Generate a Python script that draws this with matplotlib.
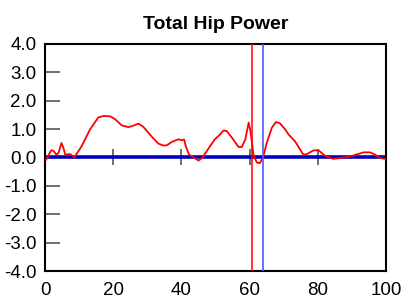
import matplotlib
matplotlib.use('Agg')
import matplotlib.pyplot as plt

plt.rcParams['font.family'] = ['Liberation Sans', 'DejaVu Sans']

# Total hip power curve (% of gait cycle vs W/kg)
pct = [0.3, 1.8, 2.4, 3.4, 4.0, 4.8, 5.4, 5.9, 7.3, 8.6, 10.7, 13.2, 15.6, 17.1,
       19.1, 20.5, 22.5, 24.4, 25.4, 27.4, 28.8, 31.3, 33.2, 34.7, 35.7, 37.2,
       39.1, 40.1, 40.8, 41.2, 42.2, 43.5, 45.0, 46.0, 47.4, 49.7, 51.3, 52.3,
       53.3, 55.2, 56.7, 57.7, 58.7, 59.7, 60.3, 61.1, 62.1, 63.0, 64.0, 65.0,
       66.5, 67.7, 68.9, 70.4, 71.4, 73.3, 75.6, 76.5, 78.7, 80.2, 82.1, 84.5,
       86.5, 88.5, 90.4, 93.4, 95.3, 96.8, 98.2, 99.7]
power = [-0.08, 0.25, 0.24, 0.09, 0.18, 0.51, 0.33, 0.10, 0.12, 0.01, 0.39, 0.99,
         1.41, 1.46, 1.45, 1.35, 1.13, 1.07, 1.10, 1.19, 1.08, 0.73, 0.49, 0.42,
         0.43, 0.55, 0.64, 0.61, 0.63, 0.42, 0.10, 0.01, -0.11, -0.02, 0.22,
         0.63, 0.81, 0.95, 0.93, 0.63, 0.37, 0.37, 0.63, 1.23, 0.87, 0.10, -0.18,
         -0.20, 0.04, 0.51, 1.05, 1.25, 1.20, 0.99, 0.81, 0.57, 0.12, 0.10, 0.25,
         0.25, 0.06, -0.05, -0.02, 0.01, 0.07, 0.18, 0.18, 0.10, -0.02, -0.05]

toe_off_red = 60.8
toe_off_blue = 63.8

fig = plt.figure(figsize=(4.06, 3.02), dpi=100)
ax = fig.add_axes([0.111, 0.1026, 0.84, 0.752])

ax.axhline(0, color='#0000bb', lw=2.6, zorder=2)
ax.plot(pct, power, color='red', lw=1.3, zorder=3)
ax.axvline(toe_off_red, color='red', lw=1.1, zorder=4)
ax.axvline(toe_off_blue, color='#5555ff', lw=1.2, zorder=4)

ax.set_xlim(0, 100)
ax.set_ylim(-4, 4)
ax.set_yticks([4, 3, 2, 1, 0, -1, -2, -3, -4])
ax.set_yticklabels(['4.0', '3.0', '2.0', '1.0', '0.0', '-1.0', '-2.0', '-3.0', '-4.0'])
ax.set_xticks([0, 20, 40, 60, 80, 100])
ax.tick_params(axis='y', direction='in', length=11, width=1.2, color='#555555',
               labelsize=13.5, pad=6)
ax.tick_params(axis='x', length=0, labelsize=13.5, pad=8)

# tick marks along the zero line
sec = ax.secondary_xaxis(0.5)
sec.set_xticks([20, 40, 60, 80])
sec.tick_params(direction='inout', length=11, width=1.2, color='#555555',
                labelbottom=False, labeltop=False)
sec.spines['bottom'].set_visible(False)
sec.spines['top'].set_visible(False)

for s in ax.spines.values():
    s.set_linewidth(1.5)
    s.set_color('black')

ax.set_title('Total Hip Power', fontsize=14, fontweight='bold', pad=11)

fig.savefig('out.png', dpi=100)
